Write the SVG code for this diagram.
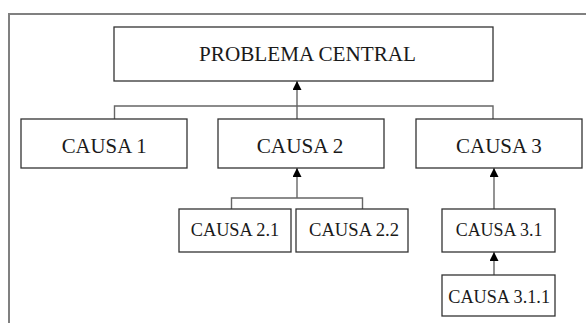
<svg xmlns="http://www.w3.org/2000/svg" width="586" height="323" viewBox="0 0 586 323">
<style>
.box{fill:#fff;stroke:#333;stroke-width:1.3}
.t{font-family:"Liberation Serif","Times New Roman",serif;fill:#1a1a1a}
.big{font-size:21.5px}
.small{font-size:18.5px}
.c{fill:none;stroke:#666;stroke-width:1.4}
.frame{fill:none;stroke:#808080;stroke-width:2}
</style>
<defs>
<marker id="arr" viewBox="0 0 10 10" refX="10" refY="5" markerWidth="10" markerHeight="9" markerUnits="userSpaceOnUse" orient="auto">
<path d="M0,0 L10,5 L0,10 Z" fill="#000"/>
</marker>
</defs>
<rect width="586" height="323" fill="#fff"/>
<path class="frame" d="M9,323 V14 H586"/>
<g id="connectors">
<path class="c" d="M114.5,119 V106 H493 V119"/>
<path class="c" d="M297,119 V81" marker-end="url(#arr)"/>
<path class="c" d="M231.5,209 V198 H362.5 V209"/>
<path class="c" d="M297,198 V168" marker-end="url(#arr)"/>
<path class="c" d="M494,209 V168" marker-end="url(#arr)"/>
<path class="c" d="M494,275 V252" marker-end="url(#arr)"/>
</g>
<g id="problema">
<rect class="box" x="114" y="27" width="379" height="54"/>
<text class="t big" x="199" y="61" textLength="217" lengthAdjust="spacingAndGlyphs">PROBLEMA CENTRAL</text>
</g>
<g id="causa1">
<rect class="box" x="21" y="119" width="166" height="49"/>
<text class="t big" x="61.7" y="153" textLength="85" lengthAdjust="spacingAndGlyphs">CAUSA 1</text>
</g>
<g id="causa2">
<rect class="box" x="218" y="119" width="166" height="49"/>
<text class="t big" x="256.7" y="153" textLength="86.6" lengthAdjust="spacingAndGlyphs">CAUSA 2</text>
</g>
<g id="causa3">
<rect class="box" x="416" y="119" width="166" height="49"/>
<text class="t big" x="456" y="153" textLength="85.7" lengthAdjust="spacingAndGlyphs">CAUSA 3</text>
</g>
<g id="causa21">
<rect class="box" x="179" y="209" width="112" height="43"/>
<text class="t small" x="190.7" y="236" textLength="88.6" lengthAdjust="spacingAndGlyphs">CAUSA 2.1</text>
</g>
<g id="causa22">
<rect class="box" x="296" y="209" width="112" height="43"/>
<text class="t small" x="309" y="236" textLength="90" lengthAdjust="spacingAndGlyphs">CAUSA 2.2</text>
</g>
<g id="causa31">
<rect class="box" x="442" y="209" width="113" height="43"/>
<text class="t small" x="455.7" y="236" textLength="86.7" lengthAdjust="spacingAndGlyphs">CAUSA 3.1</text>
</g>
<g id="causa311">
<rect class="box" x="442" y="275" width="113" height="41"/>
<text class="t small" x="448.3" y="303" textLength="101.7" lengthAdjust="spacingAndGlyphs">CAUSA 3.1.1</text>
</g>
</svg>
